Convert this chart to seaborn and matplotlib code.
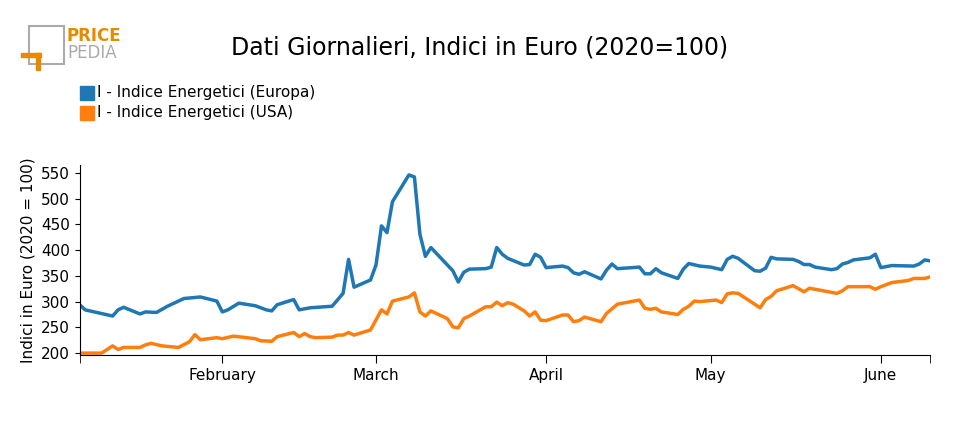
import matplotlib
matplotlib.use("Agg")
import matplotlib.pyplot as plt
import matplotlib.dates as mdates
from matplotlib.patches import Rectangle
import pandas as pd
import seaborn as sns

### DATA ###
# days after 1 Jan 2022
eu_days = [5, 6, 11, 12, 13, 16, 17, 19, 21, 24, 27, 30, 31, 32, 34, 37, 39, 40, 41, 44,
           45, 47, 51, 53, 54, 55, 58, 59, 60, 61, 62, 65, 66, 67, 68, 69, 73, 74, 75, 76,
           79, 80, 81, 82, 83, 86, 87, 88, 89, 90, 93, 94, 95, 96, 97, 100, 101, 102, 103, 107,
           108, 109, 110, 111, 114, 115, 116, 118, 120, 122, 123, 124, 125, 128, 129, 130, 131, 132, 135, 136,
           137, 138, 139, 142, 143, 144, 145, 146, 149, 150, 151, 153, 157, 158, 159, 160]
eu_vals = [294, 284, 272, 284, 289, 276, 280, 279, 291, 306, 309, 301, 280, 284, 297, 292, 284, 282, 294, 304,
           284, 288, 291, 316, 382, 328, 342, 371, 447, 434, 494, 546, 542, 431, 388, 405, 360, 338, 357, 363,
           364, 367, 405, 392, 384, 371, 372, 392, 386, 366, 369, 366, 356, 353, 358, 344, 361, 373, 364, 367,
           354, 354, 364, 356, 345, 363, 374, 369, 367, 362, 382, 388, 384, 360, 359, 365, 386, 383, 382, 378,
           372, 372, 367, 362, 364, 373, 376, 381, 385, 392, 366, 370, 369, 373, 381, 379]

us_days = [5, 9, 11, 12, 13, 16, 17, 18, 20, 23, 25, 26, 27, 30, 31, 33, 37, 38, 40, 41,
           44, 45, 46, 47, 48, 51, 52, 53, 54, 55, 58, 60, 61, 62, 65, 66, 67, 68, 69, 72,
           73, 74, 75, 76, 79, 80, 81, 82, 83, 84, 86, 87, 88, 89, 90, 93, 94, 95, 96, 97,
           100, 101, 103, 107, 108, 109, 110, 111, 114, 115, 116, 117, 118, 121, 122, 123, 124, 125, 129, 130,
           131, 132, 135, 137, 138, 139, 143, 144, 145, 149, 150, 151, 153, 156, 157, 159, 160]
us_vals = [200, 200, 214, 207, 211, 211, 216, 219, 214, 211, 222, 236, 226, 230, 228, 233, 228, 224, 223, 232,
           240, 232, 238, 232, 230, 231, 235, 235, 240, 235, 245, 284, 276, 301, 309, 317, 280, 272, 282, 267,
           251, 249, 267, 272, 290, 290, 299, 292, 298, 295, 282, 272, 280, 264, 263, 274, 274, 261, 263, 270,
           261, 277, 295, 303, 287, 285, 287, 280, 275, 285, 291, 301, 300, 303, 298, 315, 317, 316, 288, 304,
           310, 321, 331, 319, 326, 324, 316, 321, 329, 329, 324, 329, 337, 341, 345, 345, 348]

series_names = ["I - Indice Energetici (Europa)", "I - Indice Energetici (USA)"]
colors = ["#1f77b4", "#ff7f0e"]
month_labels = ["February", "March", "April", "May", "June"]

### BUILD FRAME ###
base = pd.Timestamp("2022-01-01")
df = pd.concat([
    pd.DataFrame({"date": base + pd.to_timedelta(eu_days, unit="D"), "value": eu_vals, "serie": series_names[0]}),
    pd.DataFrame({"date": base + pd.to_timedelta(us_days, unit="D"), "value": us_vals, "serie": series_names[1]}),
])

### PLOT ###
fig = plt.figure(figsize=(9.6, 4.3), dpi=100)
ax = fig.add_axes([0.083, 0.174, 0.886, 0.442])
sns.lineplot(data=df, x="date", y="value", hue="serie", palette=colors, linewidth=2.5, ax=ax, legend=False)

start = base + pd.Timedelta(days=5)
end = base + pd.Timedelta(days=160)
ax.set_xlim(start, end)
ax.set_ylim(196, 565)
ax.set_yticks(range(200, 551, 50))
months = pd.date_range("2022-02-01", periods=5, freq="MS")
ax.set_xticks(list(months))
ax.set_xticklabels(month_labels)
ax.set_xticks([start, end], minor=True)
ax.tick_params(axis="x", which="both", length=6)
ax.tick_params(labelsize=11)
ax.set_xlabel("")
ax.set_ylabel("Indici in Euro (2020 = 100)", fontsize=11)
for s in ["top", "right"]:
    ax.spines[s].set_visible(False)

fig.text(0.5, 0.89, "Dati Giornalieri, Indici in Euro (2020=100)", ha="center", va="center", fontsize=17)

# legend
for i, (name, c) in enumerate(zip(series_names, colors)):
    y = 93 + 20 * i
    fig.patches.append(Rectangle((80 / 960, 1 - (y + 7) / 430), 14 / 960, 14 / 430,
                                 transform=fig.transFigure, color=c))
    fig.text(97 / 960, 1 - y / 430, name, va="center", fontsize=11)

# logo
grey = "#aaaaaa"
orange = "#e68a00"
fig.patches.append(Rectangle((29 / 960, 1 - 64 / 430), 35 / 960, 38 / 430, transform=fig.transFigure,
                             fill=False, ec=grey, lw=1.5))
fig.patches.append(Rectangle((21 / 960, 1 - 57 / 430), 20 / 960, 4 / 430, transform=fig.transFigure, color=orange))
fig.patches.append(Rectangle((36 / 960, 1 - 70 / 430), 4 / 960, 17 / 430, transform=fig.transFigure, color=orange))
fig.text(67 / 960, 1 - 36 / 430, "PRICE", color=orange, fontsize=12, fontweight="bold", va="center")
fig.text(67 / 960, 1 - 53 / 430, "PEDIA", color=grey, fontsize=12, va="center")

fig.savefig("out.png", dpi=100)
